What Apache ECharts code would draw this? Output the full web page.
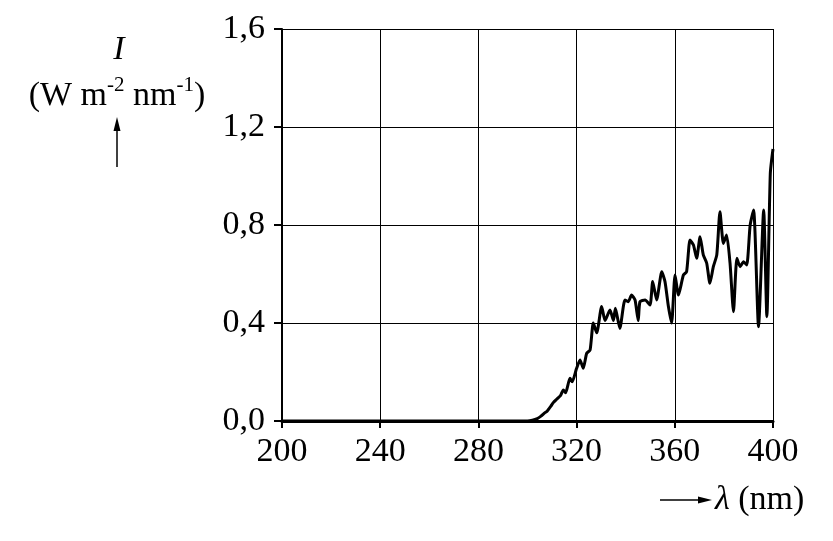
<!DOCTYPE html>
<html><head><meta charset="utf-8">
<script src="https://cdn.jsdelivr.net/npm/echarts@6/dist/echarts.min.js"></script>
<style>html,body{margin:0;padding:0;background:#fff}#c{width:833px;height:541px}</style>
</head><body><div id="c"></div>
<script>
var wavelengths = [200, 300, 302, 304, 305.5, 307, 308, 309.5, 310.5, 312, 313.5, 314.6, 315.5, 317.3, 318.2, 320, 321.4, 322.7, 324.1, 325.5, 326.8, 328.2, 330.2, 331.6, 333.6, 335, 335.8, 337.6, 339.7, 341, 342.4, 343.8, 345.1, 345.8, 347.9, 349.9, 351, 352.6, 354.7, 356, 357.4, 358.7, 360.1, 361.5, 363.5, 364.8, 366.2, 367.6, 368.9, 370.3, 371.6, 373, 374.3, 375.7, 377.1, 378.4, 379.8, 381.1, 382.5, 383.9, 385.3, 386.6, 388, 389.3, 390.7, 392.1, 394.1, 396.2, 397.5, 398.9, 400];
var intensities = [0, 0, 0.003, 0.01, 0.02, 0.033, 0.04, 0.06, 0.075, 0.09, 0.105, 0.127, 0.115, 0.174, 0.16, 0.215, 0.249, 0.215, 0.276, 0.29, 0.40, 0.36, 0.467, 0.41, 0.453, 0.41, 0.46, 0.378, 0.494, 0.487, 0.514, 0.494, 0.41, 0.487, 0.494, 0.473, 0.569, 0.494, 0.609, 0.569, 0.467, 0.40, 0.596, 0.514, 0.596, 0.609, 0.739, 0.718, 0.664, 0.752, 0.678, 0.644, 0.562, 0.63, 0.678, 0.854, 0.725, 0.759, 0.644, 0.446, 0.664, 0.63, 0.65, 0.637, 0.80, 0.861, 0.385, 0.861, 0.426, 1.01, 1.11];
var xTicks = [200, 240, 280, 320, 360, 400];
var yTicks = ['0,0', '0,4', '0,8', '1,2', '1,6'];

var FONT = '"Liberation Serif", "Times New Roman", serif';
var chart = echarts.init(document.getElementById('c'));
var pts = wavelengths.map(function (w, i) { return [w, intensities[i]]; });
chart.setOption({
  animation: false,
  backgroundColor: '#fff',
  grid: { left: 282, right: 60, top: 29, bottom: 120, containLabel: false },
  xAxis: {
    type: 'value', min: xTicks[0], max: xTicks[xTicks.length - 1], interval: 40,
    axisLine: { show: true, onZero: false, lineStyle: { color: '#000', width: 3 } },
    axisTick: { show: true, length: 7, lineStyle: { color: '#000', width: 2 } },
    splitLine: { show: true, lineStyle: { color: '#000', width: 1 } },
    axisLabel: { color: '#000', fontFamily: FONT, fontSize: 34, margin: 14 }
  },
  yAxis: {
    type: 'value', min: 0, max: 1.6, interval: 0.4,
    axisLine: { show: true, lineStyle: { color: '#000', width: 2 } },
    axisTick: { show: true, length: 8, lineStyle: { color: '#000', width: 2 } },
    splitLine: { show: true, lineStyle: { color: '#000', width: 1 } },
    axisLabel: {
      color: '#000', fontFamily: FONT, fontSize: 34, margin: 17,
      formatter: function (v) { return yTicks[Math.round(v / 0.4)]; }
    }
  },
  series: [{
    type: 'line', data: pts, showSymbol: false, smooth: 0.2,
    lineStyle: { color: '#000', width: 3 }
  }],
  graphic: [
    { type: 'text', style: { x: 119, y: 50, text: 'I', fill: '#000', font: 'italic 34px ' + FONT, textAlign: 'center', textVerticalAlign: 'middle' } },
    { type: 'text', style: { x: 117, y: 94,
      text: '{a|(W m}{s|-2}{a| nm}{s|-1}{a|)}',
      textAlign: 'center', textVerticalAlign: 'middle',
      rich: {
        a: { fontFamily: FONT, fontSize: 34, fill: '#000', lineHeight: 38, verticalAlign: 'bottom' },
        s: { fontFamily: FONT, fontSize: 21, fill: '#000', lineHeight: 38, verticalAlign: 'top', padding: [0, 0, 14, 0] }
      } } },
    { type: 'line', shape: { x1: 117, y1: 167, x2: 117, y2: 126 }, style: { stroke: '#000', lineWidth: 1.5 } },
    { type: 'polygon', shape: { points: [[117, 117], [113.5, 131], [120.5, 131]] }, style: { fill: '#000' } },
    { type: 'line', shape: { x1: 660, y1: 500, x2: 702, y2: 500 }, style: { stroke: '#000', lineWidth: 1.5 } },
    { type: 'polygon', shape: { points: [[712, 500], [698, 496.5], [698, 503.5]] }, style: { fill: '#000' } },
    { type: 'text', style: { x: 715, y: 500,
      text: '{i|λ}{a| (nm)}', textAlign: 'left', textVerticalAlign: 'middle',
      rich: {
        i: { fontFamily: FONT, fontSize: 34, fontStyle: 'italic', fill: '#000' },
        a: { fontFamily: FONT, fontSize: 34, fill: '#000' }
      } } }
  ]
});
</script></body></html>
